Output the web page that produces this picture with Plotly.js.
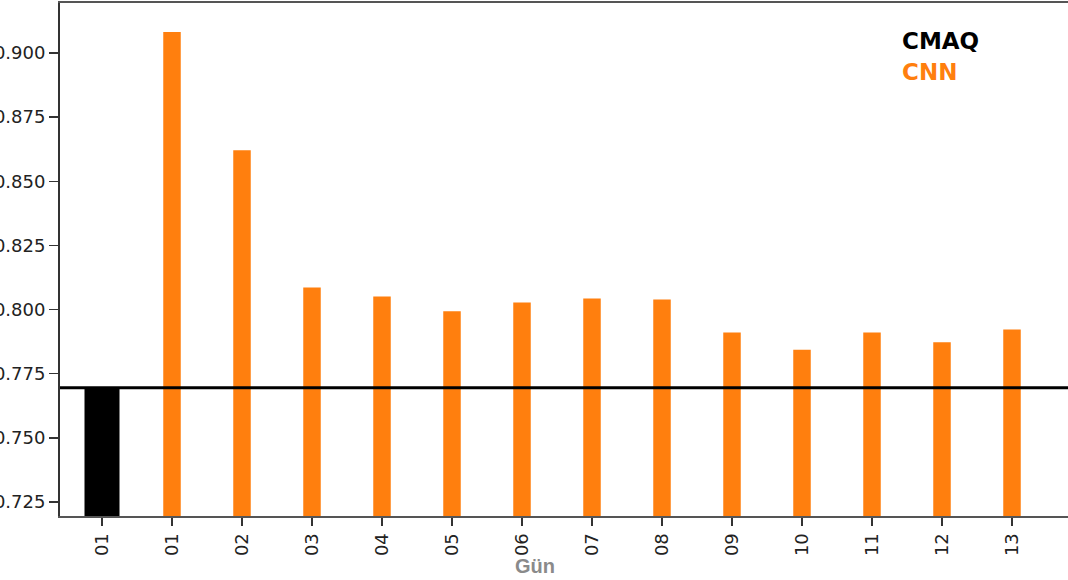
<!DOCTYPE html>
<html>
<head>
<meta charset="utf-8">
<script src="https://cdn.plot.ly/plotly-3.0.1.min.js"></script>
<style>html,body{margin:0;padding:0;overflow:hidden;background:#fff}#chart{width:1068px;height:580px}</style>
</head>
<body>
<div id="chart"></div>
<script>
// Data
const cmaqLabels = ["01"];
const cmaqValues = [0.7695];
const cnnLabels = ["01","02","03","04","05","06","07","08","09","10","11","12","13"];
const cnnValues = [0.9082, 0.8621, 0.8086, 0.8051, 0.7993, 0.8027, 0.8043, 0.8039, 0.7910, 0.7843, 0.7910, 0.7872, 0.7922];
const seriesNames = ["CMAQ", "CNN"];
const xTitle = "Gün";

const orange = "#ff7f0e";
const cmaqX = cmaqLabels.map((_, i) => i);
const cnnX = cnnLabels.map((_, i) => i + cmaqLabels.length);
const tickvals = cmaqX.concat(cnnX);
const ticktext = cmaqLabels.concat(cnnLabels);

const traces = [
  {type: "bar", x: cmaqX, y: cmaqValues, width: 0.5, marker: {color: "#000000", line: {width: 0}}, name: seriesNames[0], hoverinfo: "none"},
  {type: "bar", x: cnnX, y: cnnValues, width: 0.25, marker: {color: orange, line: {width: 0}}, name: seriesNames[1], hoverinfo: "none"}
];

const layout = {
  width: 1068, height: 580,
  margin: {l: 60, r: 0, t: 3, b: 64, pad: 0},
  paper_bgcolor: "#ffffff", plot_bgcolor: "#ffffff",
  showlegend: false,
  barmode: "overlay",
  font: {family: "DejaVu Sans, sans-serif", color: "#222"},
  xaxis: {
    range: [-0.6, 13.8], tickvals: tickvals, ticktext: ticktext, tickangle: -90,
    showgrid: false, zeroline: false, showline: true, mirror: true, linecolor: "#555", linewidth: 2,
    ticks: "outside", ticklen: 8, tickwidth: 1.5, tickcolor: "#333",
    tickfont: {size: 18, family: "DejaVu Sans, sans-serif", color: "#222"}, automargin: false
  },
  yaxis: {
    range: [0.7195, 0.9195], tickvals: [0.725,0.75,0.775,0.8,0.825,0.85,0.875,0.9], tickformat: ".3f",
    showgrid: false, zeroline: false, showline: true, linecolor: "#333", linewidth: 2,
    ticks: "outside", ticklen: 9, tickwidth: 1.5, tickcolor: "#333",
    tickfont: {size: 18, family: "DejaVu Sans, sans-serif", color: "#222"}, automargin: false
  },
  shapes: [
    {type: "line", xref: "paper", x0: 0, x1: 1, yref: "y", y0: cmaqValues[0], y1: cmaqValues[0], line: {color: "#000", width: 3}}
  ],
  annotations: [
    {xref: "paper", yref: "paper", x: 0.833, y: 0.925, xanchor: "left", yanchor: "middle", showarrow: false, text: "<b>" + seriesNames[0] + "</b>", font: {size: 23, color: "#000", family: "DejaVu Sans, sans-serif"}},
    {xref: "paper", yref: "paper", x: 0.833, y: 0.865, xanchor: "left", yanchor: "middle", showarrow: false, text: "<b>" + seriesNames[1] + "</b>", font: {size: 23, color: orange, family: "DejaVu Sans, sans-serif"}},
    {xref: "paper", yref: "paper", x: 0.471, y: -0.098, xanchor: "center", yanchor: "middle", showarrow: false, text: "<b>" + xTitle + "</b>", font: {size: 20, color: "#8a8a8a", family: "Liberation Sans, Arial, sans-serif"}}
  ]
};

Plotly.newPlot("chart", traces, layout, {displayModeBar: false, staticPlot: true});
</script>
</body>
</html>
